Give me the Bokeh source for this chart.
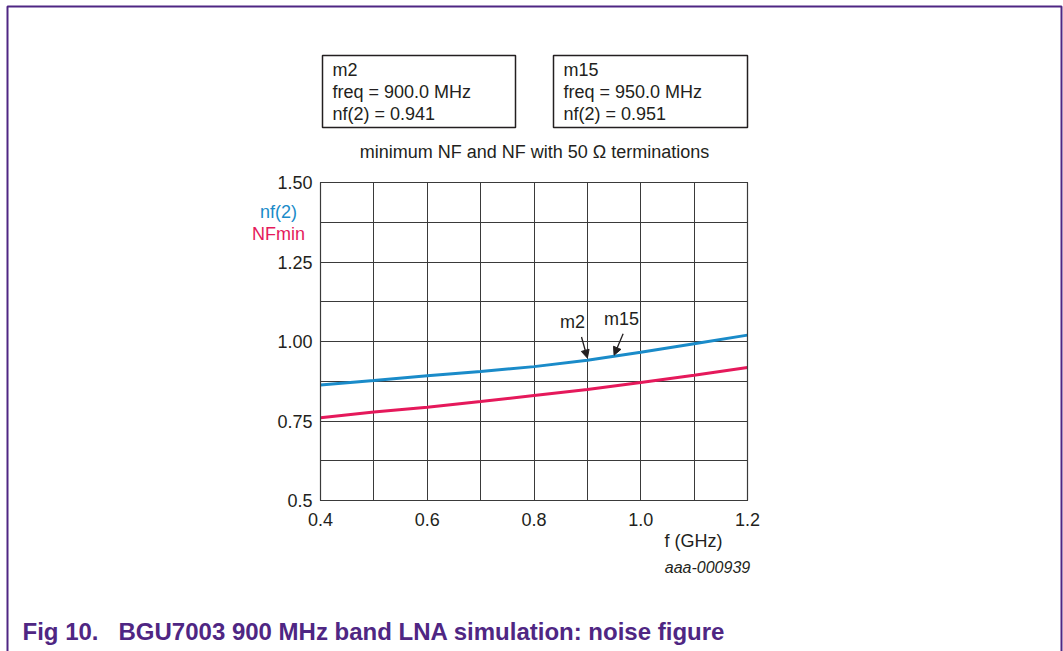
from bokeh.plotting import figure
from bokeh.models import (FixedTicker, Label, BoxAnnotation, Arrow, NormalHead,
                          ColumnDataSource)
from bokeh.embed import file_html
from bokeh.resources import INLINE

# ---------------- data ----------------
freq_ghz = [0.4, 0.5, 0.6, 0.7, 0.8, 0.9, 1.0, 1.1, 1.2]
nf2 = [0.863, 0.877, 0.892, 0.906, 0.921, 0.941, 0.966, 0.993, 1.020]
nfmin = [0.760, 0.778, 0.793, 0.811, 0.830, 0.849, 0.871, 0.894, 0.918]

x_major = [0.4, 0.6, 0.8, 1.0, 1.2]
x_minor = [0.4, 0.5, 0.6, 0.7, 0.8, 0.9, 1.0, 1.1, 1.2]
y_major = [0.5, 0.75, 1.0, 1.25, 1.5]
y_minor = [0.5, 0.625, 0.75, 0.875, 1.0, 1.125, 1.25, 1.375, 1.5]
y_labels = {0.5: "0.5", 0.75: "0.75", 1.0: "1.00", 1.25: "1.25", 1.5: "1.50"}
x_labels = {0.4: "0.4", 0.6: "0.6", 0.8: "0.8", 1.0: "1.0", 1.2: "1.2"}

marker_names = ["m2", "m15"]
marker_freq_mhz = [900.0, 950.0]
marker_nf = [0.941, 0.951]

title_text = "minimum NF and NF with 50 \u03a9 terminations"
xlabel_text = "f (GHz)"
code_text = "aaa-000939"
caption_fig = "Fig 10."
caption_text = "BGU7003 900 MHz band LNA simulation: noise figure"
series_names = ["nf(2)", "NFmin"]

# ---------------- styles ----------------
FONT = "Liberation Sans"
TXT = "#231f20"
GRID = "#3a3a3a"
BLUE = "#1a8bc9"
RED = "#e5195b"
PURPLE = "#4f2683"

W, H = 1063, 651

# plot area in canvas pixels
FL, FR, FT, FB = 320, 747, 182, 500
X0, X1 = x_minor[0], x_minor[-1]
Y0, Y1 = y_minor[0], y_minor[-1]
kx = (FR - FL) / (X1 - X0)
ky = (FB - FT) / (Y1 - Y0)
x_rng = (X0 - FL / kx, X1 + (W - FR) / kx)
y_rng = (Y0 - (H - FB) / ky, Y1 + FT / ky)

def sx(px):
    return px

def sy(py):
    return H - py

p = figure(width=W, height=H, output_backend="svg", toolbar_location=None,
           x_range=x_rng, y_range=y_rng,
           min_border_left=0, min_border_right=0,
           min_border_top=0, min_border_bottom=0)
p.background_fill_color = "white"
p.border_fill_color = "white"
p.outline_line_color = None

p.xaxis.ticker = FixedTicker(ticks=x_major, minor_ticks=x_minor)
p.yaxis.ticker = FixedTicker(ticks=y_major, minor_ticks=y_minor)
p.xaxis.major_label_overrides = x_labels
p.yaxis.major_label_overrides = y_labels
p.xaxis.fixed_location = Y0
p.yaxis.fixed_location = X0
for ax in (p.xaxis, p.yaxis):
    ax.axis_line_color = None
    ax.major_tick_line_color = None
    ax.minor_tick_line_color = None
    ax.major_tick_in = 0
    ax.major_tick_out = 0
    ax.minor_tick_in = 0
    ax.minor_tick_out = 0
    ax.major_label_text_font = FONT
    ax.major_label_text_font_size = "18px"
    ax.major_label_text_color = TXT
p.xaxis.major_label_standoff = 12
p.yaxis.major_label_standoff = 8

p.xgrid.bounds = (X0, X1)
p.xgrid.cross_bounds = (Y0, Y1)
p.ygrid.bounds = (Y0, Y1)
p.ygrid.cross_bounds = (X0, X1)
for g in (p.xgrid, p.ygrid):
    g.grid_line_color = GRID
    g.grid_line_width = 1
    g.minor_grid_line_color = GRID
    g.minor_grid_line_width = 1

# plot border
p.add_layout(BoxAnnotation(left=X0, right=X1, bottom=Y0, top=Y1,
                           fill_color=None, line_color=GRID, line_alpha=1,
                           line_width=1.2))

src = ColumnDataSource(dict(f=freq_ghz, nf2=nf2, nfmin=nfmin))
p.line("f", "nfmin", source=src, line_color=RED, line_width=3)
p.line("f", "nf2", source=src, line_color=BLUE, line_width=3)

# marker arrows / labels (offsets are styling only)
tail_dx = [-0.011, 0.017]
tail_dy = 0.073
tip_dy = [0.007, 0.006]
lab_dx = [-0.028, 0.014]
lab_dy = 0.119
for name, fm, v, tdx, tpy, ldx in zip(marker_names, marker_freq_mhz, marker_nf,
                                      tail_dx, tip_dy, lab_dx):
    fg = fm / 1000.0
    p.add_layout(Arrow(end=NormalHead(size=8, fill_color=TXT, line_color=TXT, line_width=1),
                       x_start=fg + tdx, y_start=v + tail_dy,
                       x_end=fg, y_end=v + tpy,
                       line_color=TXT, line_width=1.3))
    p.add_layout(Label(x=fg + ldx, y=v + lab_dy, text=name, text_align="center",
                       text_baseline="middle", text_font=FONT,
                       text_font_size="18px", text_color=TXT))

def slabel(px, py, text, size="18px", color=TXT, align="left", style="normal"):
    p.add_layout(Label(x=sx(px), y=sy(py), x_units="screen", y_units="screen",
                       text=text, text_align=align, text_baseline="middle",
                       text_font=FONT, text_font_size=size, text_color=color,
                       text_font_style=style))

def sbox(l, r, t, b, color, width):
    p.add_layout(BoxAnnotation(left=sx(l), right=sx(r), top=sy(t), bottom=sy(b),
                               left_units="screen", right_units="screen",
                               top_units="screen", bottom_units="screen",
                               fill_color=None, line_color=color, line_alpha=1,
                               line_width=width))

# marker boxes
box_lr = [(322, 515), (553, 747)]
for (bl, br), name, fm, v in zip(box_lr, marker_names, marker_freq_mhz, marker_nf):
    sbox(bl, br, 55, 127, TXT, 1.5)
    slabel(bl + 10, 69, name)
    slabel(bl + 10, 91, "freq = %.1f MHz" % fm)
    slabel(bl + 10, 113, "nf(2) = %.3f" % v)

slabel(534, 151, title_text, align="center")
slabel(278, 211, series_names[0], color=BLUE, align="center")
slabel(278, 233, series_names[1], color=RED, align="center")
slabel(693, 540, xlabel_text, align="center")
slabel(707, 567, code_text, size="16px", align="center", style="italic")
slabel(22, 631, caption_fig, size="24px", color=PURPLE, style="bold")
slabel(118, 631, caption_text, size="24px", color=PURPLE, style="bold")

# outer purple frame (open at bottom)
sbox(7, 1061, 6, 720, PURPLE, 2)

open("out.html", "w").write(file_html(p, INLINE))
